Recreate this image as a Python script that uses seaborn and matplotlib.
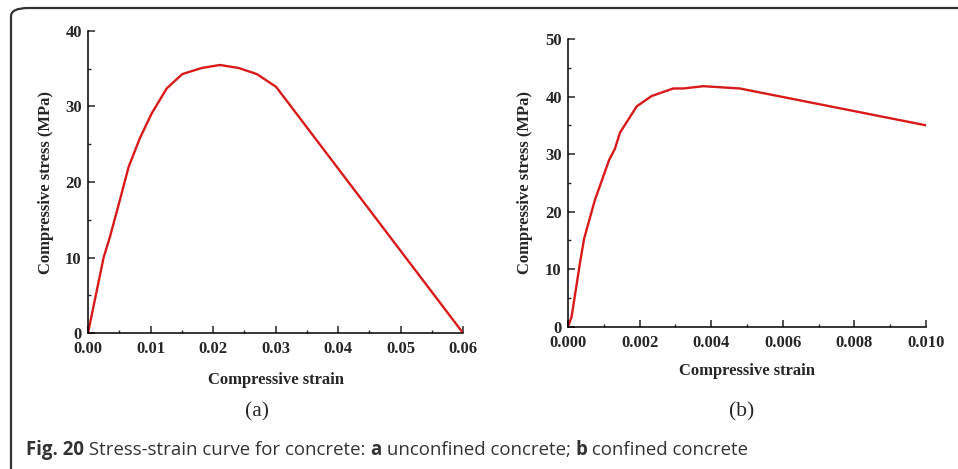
import matplotlib
matplotlib.use("Agg")
import matplotlib.pyplot as plt
from matplotlib.patches import FancyBboxPatch
from matplotlib.ticker import MultipleLocator
import seaborn as sns
import pandas as pd

# ---- data ----
strain_a = [0.0, 0.0025, 0.0035, 0.0051, 0.0065, 0.0083, 0.0102, 0.0126, 0.0151,
            0.0182, 0.0211, 0.0241, 0.0270, 0.0301, 0.0600]
stress_a = [0.0, 10.0, 12.7, 17.6, 22.0, 25.8, 29.1, 32.4, 34.3,
            35.1, 35.5, 35.1, 34.3, 32.6, 0.0]

strain_b = [0.0, 0.0001, 0.00034, 0.00045, 0.00075, 0.00115, 0.00131, 0.00145,
            0.00192, 0.00234, 0.00294, 0.00322, 0.00378, 0.0048, 0.0100]
stress_b = [0.0, 1.7, 11.3, 15.3, 22.0, 29.0, 30.9, 33.7,
            38.3, 40.1, 41.4, 41.4, 41.8, 41.4, 35.0]

xlabel = "Compressive strain"
ylabel = "Compressive stress (MPa)"
panel_labels = ["(a)", "(b)"]

sns.set_style("ticks")
plt.rcParams['font.family'] = ['Liberation Serif', 'DejaVu Serif']

W, H = 958, 469
fig = plt.figure(figsize=(W / 100, H / 100), dpi=100)

def fx(px):
    return px / W

def fy(py):
    return 1 - py / H

red = '#d81a1a'

ax1 = fig.add_axes([fx(88), fy(333), fx(463) - fx(88), fy(31) - fy(333)])
ax2 = fig.add_axes([fx(568), fy(326.7), fx(926) - fx(568), fy(39) - fy(326.7)])

df_a = pd.DataFrame({"strain": strain_a, "stress": stress_a})
df_b = pd.DataFrame({"strain": strain_b, "stress": stress_b})

sns.lineplot(data=df_a, x="strain", y="stress", sort=False, ax=ax1, color=red, lw=1.7)
sns.lineplot(data=df_b, x="strain", y="stress", sort=False, ax=ax2, color=red, lw=1.7)

setups = [
    (ax1, (0, 0.06), (0, 40), 0.01, 0.005, 10, 5, "{:.2f}", 10.5, 8),
    (ax2, (0, 0.010), (0, 50), 0.002, 0.001, 10, 5, "{:.3f}", 8.5, 9),
]
for ax, xl, yl, xmaj, xmin, ymaj, ymin, fmt, xlp, ylp in setups:
    ax.set_xlim(*xl)
    ax.set_ylim(*yl)
    ax.xaxis.set_major_locator(MultipleLocator(xmaj))
    ax.xaxis.set_minor_locator(MultipleLocator(xmin))
    ax.yaxis.set_major_locator(MultipleLocator(ymaj))
    ax.yaxis.set_minor_locator(MultipleLocator(ymin))
    ax.xaxis.set_major_formatter(matplotlib.ticker.FuncFormatter(lambda v, p, f=fmt: f.format(v)))
    ax.tick_params(which='major', direction='in', length=5, width=1.1, labelsize=12)
    ax.tick_params(axis='x', which='major', pad=6)
    ax.tick_params(axis='y', which='major', pad=4.5)
    ax.tick_params(which='minor', direction='in', length=2.5, width=1.0)
    for lab in ax.get_xticklabels() + ax.get_yticklabels():
        lab.set_fontweight('bold')
    sns.despine(ax=ax)
    for s in ['left', 'bottom']:
        ax.spines[s].set_linewidth(1.1)
        ax.spines[s].set_color('black')
    ax.set_xlabel(xlabel, fontsize=12, fontweight='bold', labelpad=xlp)
    ax.set_ylabel(ylabel, fontsize=12, fontweight='bold', labelpad=ylp)
    ax.set_facecolor('white')

fig.text(fx(257), fy(412), panel_labels[0], fontsize=15.5, ha='center', va='center')
fig.text(fx(742), fy(412), panel_labels[1], fontsize=15.5, ha='center', va='center')

# caption
cap_y = fy(450)
cap_size = 13.4
t1 = fig.text(fx(26), cap_y, "Fig. 20", fontsize=cap_size, fontweight='bold',
              family='Open Sans', ha='left', va='center', color='#333333')
fig.canvas.draw()
x2 = t1.get_window_extent().x1 / W
parts = [(" Stress-strain curve for concrete: ", 'normal'), ("a", 'bold'),
         (" unconfined concrete; ", 'normal'), ("b", 'bold'), (" confined concrete", 'normal')]
for txt, wt in parts:
    t = fig.text(x2, cap_y, txt, fontsize=cap_size, fontweight=wt, family='Open Sans',
                 ha='left', va='center', color='#333333')
    fig.canvas.draw()
    x2 = t.get_window_extent().x1 / W

# frame
frame = FancyBboxPatch((fx(11), fy(490)), fx(1000) - fx(11), fy(8) - fy(490),
                       boxstyle="round,pad=0,rounding_size=0.018",
                       transform=fig.transFigure, fill=False, edgecolor='#333333',
                       lw=1.6, clip_on=False)
fig.patches.append(frame)

fig.savefig("out.png", dpi=100, facecolor='white')
